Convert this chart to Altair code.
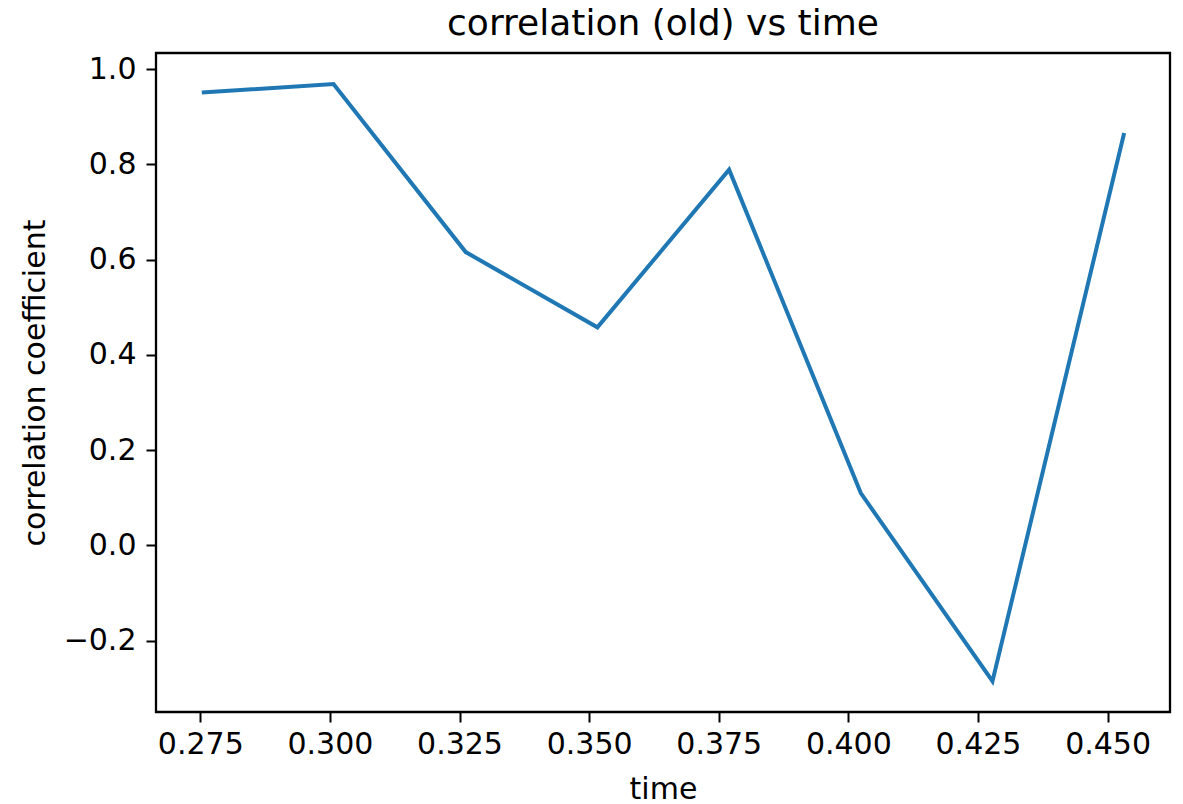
import altair as alt
import pandas as pd

# Sample times and the (old) correlation coefficient at each one
time = [0.2753, 0.3007, 0.3262, 0.3516, 0.3770, 0.4024, 0.4278, 0.4532]
corr = [0.951, 0.969, 0.616, 0.458, 0.789, 0.110, -0.285, 0.866]

x_ticks = [0.275, 0.300, 0.325, 0.350, 0.375, 0.400, 0.425, 0.450]
y_ticks = [-0.2, 0.0, 0.2, 0.4, 0.6, 0.8, 1.0]

df = pd.DataFrame({"time": time, "corr": corr})

FONT = "DejaVu Sans"

line = alt.Chart(df).mark_line(color="#1f77b4", strokeWidth=4, strokeJoin="miter").encode(
    x=alt.X(
        "time:Q",
        title="time",
        scale=alt.Scale(domain=[0.26646, 0.46204], nice=False, zero=False),
        axis=alt.Axis(
            values=x_ticks,
            format=".3f",
            grid=False,
            domain=False,
            tickColor="black",
            tickWidth=2,
            tickSize=10,
            labelFont=FONT,
            labelFontSize=30,
            labelColor="black",
            labelPadding=7,
            titleFont=FONT,
            titleFontSize=30,
            titleFontWeight="normal",
            titleColor="black",
            titlePadding=15,
        ),
    ),
    y=alt.Y(
        "corr:Q",
        title="correlation coefficient",
        scale=alt.Scale(domain=[-0.3496, 1.034], nice=False, zero=False),
        axis=alt.Axis(
            values=y_ticks,
            format=".1f",
            grid=False,
            domain=False,
            tickColor="black",
            tickWidth=2,
            tickSize=10,
            labelFont=FONT,
            labelFontSize=30,
            labelColor="black",
            labelPadding=10,
            titleFont=FONT,
            titleFontSize=30,
            titleFontWeight="normal",
            titleColor="black",
            titlePadding=13,
        ),
    ),
)

chart = line.properties(
    width=1014,
    height=659,
    title=alt.Title(
        "correlation (old) vs time",
        font=FONT,
        fontSize=36,
        fontWeight="normal",
        color="black",
        anchor="middle",
        offset=10,
    ),
    padding={"left": 156, "top": 53, "right": 13, "bottom": 92},
    autosize="none",
).configure(
    background="white",
).configure_view(
    stroke="black",
    strokeWidth=2.3,
)

chart.save("out.html", embed_options={"renderer": "svg", "actions": False})
